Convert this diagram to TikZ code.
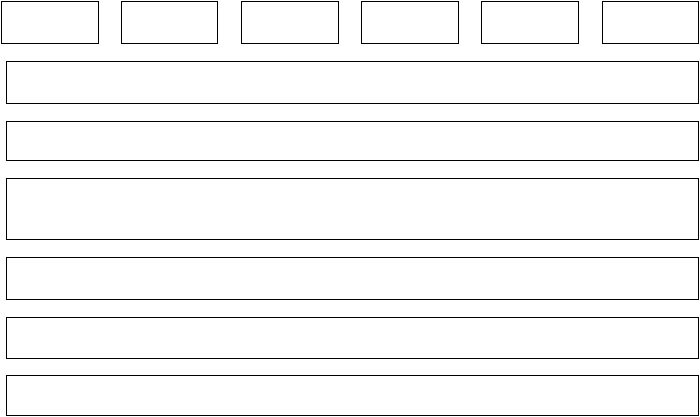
\documentclass[tikz,border=0pt]{standalone}
\usepackage{tikz}
\usetikzlibrary{positioning}
\tikzset{
  cell/.style={draw, line width=0.8pt, inner sep=0pt, anchor=north west,
    minimum width=96.5pt, minimum height=42.5pt},
  band/.style={draw, line width=0.8pt, inner sep=0pt, anchor=north west,
    minimum width=692pt},
}
\begin{document}
\begin{tikzpicture}[x=1pt, y=-1pt]
        \useasboundingbox (0,0) rectangle (700,416);%
        % top row
        \node[cell] (c1) at (1,0.5) {};%
        \node[cell] (c2) at (120.5,0.5) {};%
        \node[cell] (c3) at (241,0.5) {};%
        \node[cell] (c4) at (361,0.5) {};%
        \node[cell] (c5) at (481,0.5) {};%
        \node[cell] (c6) at (601.5,0.5) {};%
        % wide bands
        \node[band, minimum height=42pt] (b1) at (6,60.5) {};%
        \node[band, minimum height=39pt] (b2) at (6,121) {};%
        \node[band, minimum height=61pt] (b3) at (6,178) {};%
        \node[band, minimum height=42pt] (b4) at (6,257) {};%
        \node[band, minimum height=41pt] (b5) at (6,317) {};%
        \node[band, minimum height=40pt] (b6) at (6,375) {};%
\end{tikzpicture}
\end{document}
